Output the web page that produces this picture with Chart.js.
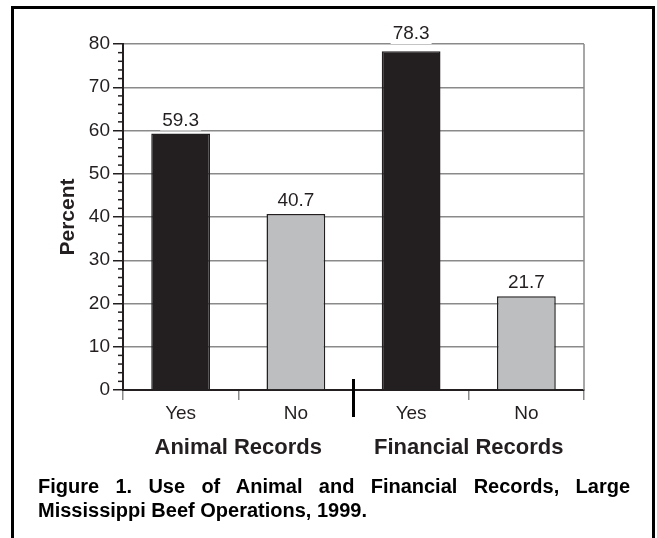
<!DOCTYPE html>
<html>
<head>
<meta charset="utf-8">
<script src="https://cdn.jsdelivr.net/npm/chart.js@4"></script>
<style>
    body { margin: 0; background: #fff; }
    #frame {
        position: absolute; left: 11px; top: 6px; width: 638px; height: 540px;
        border: 3px solid #000; border-bottom: none;
    }
    #chart { position: absolute; left: 0; top: 0; }
    #caption {
        position: absolute; left: 38px; top: 474px; width: 592px;
        font: bold 20px "Liberation Sans", Arial, sans-serif; line-height: 24px;
        text-align: justify; color: #000;
    }
</style>
</head>
<body>
<div id="frame"></div>
<canvas id="chart" width="657" height="538"></canvas>
<div id="caption">Figure 1. Use of Animal and Financial Records, Large Mississippi Beef Operations, 1999.</div>
<script>
const categories = ['Yes', 'No', 'Yes', 'No'];
const groups = ['Animal Records', 'Financial Records'];
const percents = [59.3, 40.7, 78.3, 21.7];
const barColors = ['#231f20', '#bcbec0', '#231f20', '#bcbec0'];
const yMin = 0, yMax = 80;

const FONT = '"Liberation Sans", Arial, sans-serif';
const DARK = '#231f20';
const GRID = '#8a8a8a';

// minor ticks, right frame line, value labels, separator and group names
const extras = {
    id: 'extras',
    afterDraw(chart) {
        const ctx = chart.ctx;
        const area = chart.chartArea;
        const x = chart.scales.x, y = chart.scales.y;
        ctx.save();

        ctx.strokeStyle = GRID;
        ctx.lineWidth = 1.5;
        ctx.beginPath();
        ctx.moveTo(area.right, area.top);
        ctx.lineTo(area.right, area.bottom);
        ctx.stroke();

        ctx.strokeStyle = DARK;
        ctx.lineWidth = 1.5;
        for (let v = yMin; v <= yMax; v += 2) {
            if (v % 10 === 0) continue;
            const py = y.getPixelForValue(v);
            ctx.beginPath();
            ctx.moveTo(area.left - 5, py);
            ctx.lineTo(area.left, py);
            ctx.stroke();
        }

        // value labels with white box behind
        ctx.font = '19px ' + FONT;
        ctx.textAlign = 'center';
        ctx.textBaseline = 'alphabetic';
        chart.getDatasetMeta(0).data.forEach((bar, i) => {
            const txt = percents[i].toFixed(1);
            let base = bar.y - 8;
            if (base > area.top - 2 && base - 14 < area.top) base = area.top - 5;
            const w = ctx.measureText(txt).width;
            ctx.fillStyle = '#fff';
            ctx.fillRect(bar.x - w / 2 - 2, base - 15, w + 4, 20);
            ctx.fillStyle = DARK;
            ctx.fillText(txt, bar.x, base);
        });

        // separator between the two groups
        const sepX = (x.getPixelForValue(1) + x.getPixelForValue(2)) / 2;
        ctx.strokeStyle = '#000';
        ctx.lineWidth = 3;
        ctx.beginPath();
        ctx.moveTo(sepX, area.bottom - 11);
        ctx.lineTo(sepX, area.bottom + 27);
        ctx.stroke();

        ctx.font = 'bold 22px ' + FONT;
        ctx.fillStyle = DARK;
        groups.forEach((g, i) => {
            const cx = (x.getPixelForValue(i * 2) + x.getPixelForValue(i * 2 + 1)) / 2;
            ctx.fillText(g, cx, area.bottom + 64);
        });
        ctx.restore();
    }
};

new Chart(document.getElementById('chart').getContext('2d'), {
    type: 'bar',
    data: {
        labels: categories,
        datasets: [{
            data: percents,
            backgroundColor: barColors,
            borderColor: DARK,
            borderWidth: 1.5,
            barPercentage: 0.51,
            categoryPercentage: 1
        }]
    },
    options: {
        responsive: false,
        animation: false,
        devicePixelRatio: 1,
        layout: { padding: { top: 44, right: 73, left: 0, bottom: 0 } },
        plugins: { legend: { display: false }, tooltip: { enabled: false } },
        scales: {
            x: {
                afterFit: s => { s.height = 148; },
                grid: {
                    offset: true,
                    drawOnChartArea: false,
                    tickLength: 10,
                    lineWidth: 1.5,
                    tickColor: c => c.index === 2 ? 'transparent' : GRID
                },
                border: { color: DARK, width: 2 },
                ticks: { color: DARK, font: { family: FONT, size: 19 }, padding: 2 }
            },
            y: {
                min: yMin,
                max: yMax,
                afterFit: s => { s.width = 123; },
                grid: {
                    color: c => c.tick.value % 10 === 0 ? GRID : 'transparent',
                    lineWidth: 1.5,
                    tickLength: 10,
                    tickColor: c => c.tick.value % 10 === 0 ? DARK : 'transparent'
                },
                border: { color: DARK, width: 2 },
                ticks: {
                    stepSize: 2,
                    autoSkip: false,
                    color: DARK,
                    padding: 3,
                    font: { family: FONT, size: 19 },
                    callback: v => v % 10 === 0 ? v : ''
                },
                title: {
                    display: true,
                    text: 'Percent',
                    color: DARK,
                    font: { family: FONT, size: 21, weight: 'bold' },
                    padding: { top: 56, bottom: 0 }
                }
            }
        }
    },
    plugins: [extras]
});
</script>
</body>
</html>
